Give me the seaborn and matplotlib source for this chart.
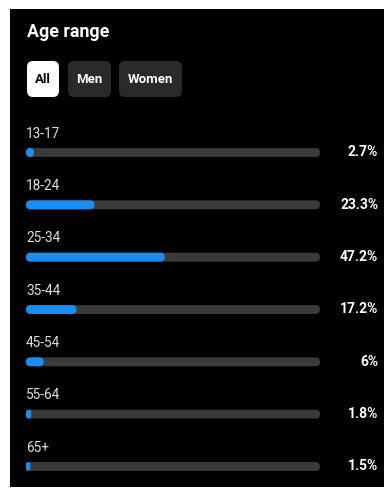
import matplotlib
matplotlib.use("Agg")
import matplotlib.pyplot as plt
from matplotlib.patches import FancyBboxPatch, Rectangle
import seaborn as sns
import pandas as pd

# ---- data ----
age_groups = ["13-17", "18-24", "25-34", "35-44", "45-54", "55-64", "65+"]
shares = [2.7, 23.3, 47.2, 17.2, 6.0, 1.8, 1.5]
share_labels = ["2.7%", "23.3%", "47.2%", "17.2%", "6%", "1.8%", "1.5%"]
track_max = [100] * len(age_groups)
title = "Age range"
filters = ["All", "Men", "Women"]

sns.set_theme(style="dark")
plt.rcParams["font.family"] = ["Roboto", "DejaVu Sans"]

W, H = 385, 491
fig = plt.figure(figsize=(W / 100, H / 100), dpi=100, facecolor="white")

BLUE = "#1a8df2"
TRACK = "#3a3a3a"
BTN = "#2a2a2a"

def fx(px):
    return px / W

def fy(py):
    return 1 - py / H

# black panel
fig.patches.append(Rectangle((fx(10), fy(487)), fx(374), (487 - 9) / H,
                             transform=fig.transFigure, facecolor="black",
                             edgecolor="none", zorder=-10))

# title
fig.text(fx(27), fy(32), title, color="white", fontsize=12.8,
         fontweight="bold", va="center", ha="left")

# filter buttons
btns = [(27, 59, "white", "black"), (68, 111, BTN, "white"), (119, 182, BTN, "white")]
for (x0, x1, bg, fg), lab in zip(btns, filters):
    y0, y1 = 61, 97
    r = 6
    p = FancyBboxPatch((fx(x0), fy(y1)), fx(x1 - x0), (y1 - y0) / H,
                       boxstyle=f"round,pad=0,rounding_size={r / W}",
                       mutation_aspect=W / H,
                       transform=fig.transFigure, facecolor=bg,
                       edgecolor="none", zorder=-5)
    fig.patches.append(p)
    fig.text(fx((x0 + x1) / 2), fy((y0 + y1) / 2 + 0.5), lab, color=fg,
             fontsize=9.5, fontweight="bold", ha="center", va="center", zorder=2)

# bars axes
left_px, right_px = 26, 320
row_gap = 52.33
top_px = 152.5 - 0.5 * row_gap
ymin, ymax = -0.5, 6.3
ax_h = (ymax - ymin) * row_gap
ax = fig.add_axes([fx(left_px), fy(top_px + ax_h), fx(right_px - left_px), ax_h / H])
ax.set_facecolor("none")
ax.set_zorder(5)

df = pd.DataFrame({"age": age_groups, "share": shares, "track": track_max})
sns.barplot(data=df, x="track", y="age", color=TRACK, width=0.17,
            saturation=1, ax=ax, orient="h")
sns.barplot(data=df, x="share", y="age", color=BLUE, width=0.17,
            saturation=1, ax=ax, orient="h")
ax.set_xlim(0, 100)
ax.set_ylim(ymax, ymin)
ax.axis("off")

# round the bar ends
x_per_px = 100 / (right_px - left_px)
y_per_px = 1 / row_gap
aspect = y_per_px / x_per_px
for k, rect in enumerate(list(ax.patches)):
    x, y = rect.get_x(), rect.get_y()
    w, h = rect.get_width(), rect.get_height()
    r = min(h / aspect / 2, w / 2)
    fp = FancyBboxPatch((x, y), w, h,
                        boxstyle=f"round,pad=0,rounding_size={r}",
                        mutation_aspect=aspect,
                        facecolor=rect.get_facecolor(), edgecolor="none",
                        zorder=1 + k / 100)
    rect.remove()
    ax.add_patch(fp)

# labels
for i, (grp, lab) in enumerate(zip(age_groups, share_labels)):
    ax.annotate(grp, xy=(0, i), xytext=(0, 13.5), textcoords="offset points",
                color="#dedede", fontsize=9.8, ha="left", va="center",
                annotation_clip=False)
    ax.annotate(lab, xy=(100, i), xytext=(42, 0), textcoords="offset points",
                color="white", fontsize=10, fontweight="bold", ha="right",
                va="center", annotation_clip=False)

fig.savefig("out.png", dpi=100, facecolor="white")
